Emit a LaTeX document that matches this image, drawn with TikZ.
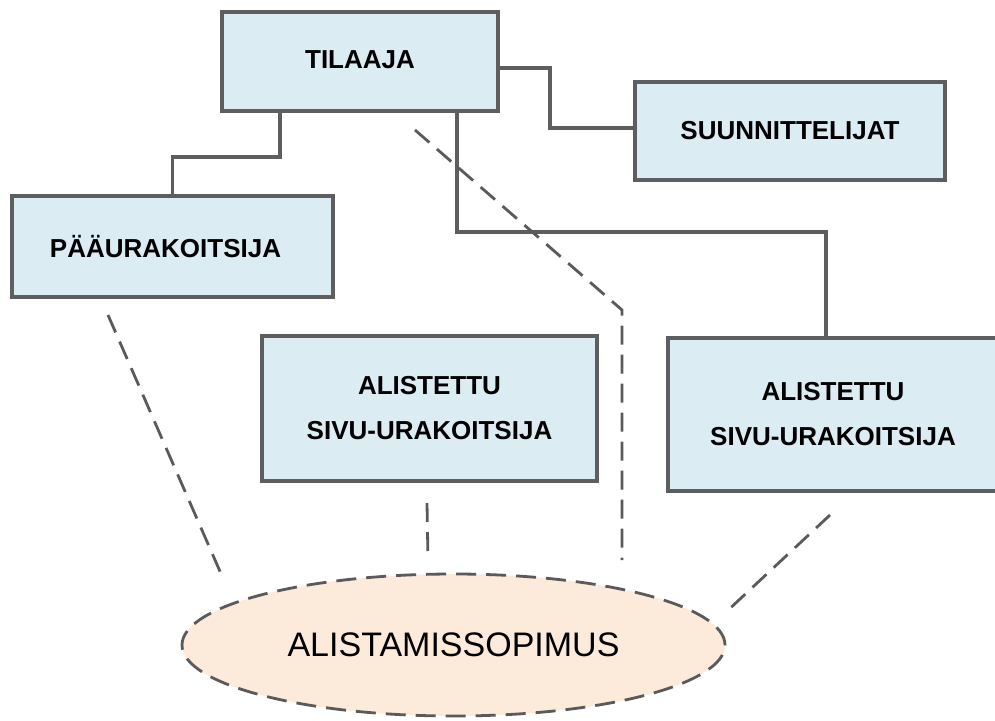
\documentclass[tikz,border=0pt]{standalone}
\usepackage{fontspec}
\setmainfont{Liberation Sans}
\usetikzlibrary{shapes.geometric}
\definecolor{boxfill}{HTML}{DBECF3}
\definecolor{boxline}{HTML}{5E5E5E}
\definecolor{ovalfill}{HTML}{FCEADB}
\definecolor{dashline}{HTML}{5A5A5A}
\begin{document}
\begin{tikzpicture}[x=1pt,y=-1pt,
  orgbox/.style={draw=boxline,line width=4.5pt,fill=boxfill,inner sep=0pt,
    align=center,font=\fontsize{26}{45}\selectfont\bfseries},
  conn/.style={draw=boxline,line width=3.6pt},
  tie/.style={draw=dashline,line width=2.8pt,dash pattern=on 19pt off 10pt},
  oval/.style={ellipse,draw=dashline,line width=2.8pt,dash pattern=on 20pt off 10pt,
    fill=ovalfill,inner sep=0pt,font=\fontsize{34}{40}\selectfont}]
\useasboundingbox (0,0) rectangle (995,720);

% organisation boxes
\node[orgbox,minimum width=276pt,minimum height=99pt] (tilaaja) at (360,61.5) {\raisebox{4pt}{TILAAJA}};
\node[orgbox,minimum width=310pt,minimum height=98pt] (suun) at (790,131) {SUUNNITTELIJAT};
\node[orgbox,minimum width=321pt,minimum height=101pt] (paa) at (172.5,246.5) {\hspace*{-14pt}PÄÄURAKOITSIJA};
\node[orgbox,minimum width=335pt,minimum height=145pt] (ali1) at (429.5,408.5) {ALISTETTU\\SIVU-URAKOITSIJA};
\node[orgbox,minimum width=330pt,minimum height=153pt] (ali2) at (833,414.5) {ALISTETTU\\SIVU-URAKOITSIJA};

% agreement
\node[oval,minimum width=543pt,minimum height=142pt] (sop) at (453.5,645) {ALISTAMISSOPIMUS};

% contract lines
\draw[conn] ([xshift=-80pt]tilaaja.south) -- ++(0,44) -| (paa.north);
\draw[conn] ([yshift=-6.5pt]tilaaja.east) -- ++(50,0) |- ([yshift=3pt]suun.west);
\draw[conn] ([xshift=97pt]tilaaja.south) -- ++(0,119) -| ([xshift=-7pt]ali2.north);

% subordination ties
\coordinate (t1a) at (108,315);
\coordinate (t1b) at (222,576);
\coordinate (t2a) at (415,130);
\coordinate (t2m) at (622,310);
\coordinate (t2b) at (622,560);
\coordinate (t3a) at (427,503);
\coordinate (t3b) at (428,560);
\coordinate (t4a) at (830,515);
\coordinate (t4b) at (725,613);
\draw[tie] (t1a) -- (t1b);
\draw[tie] (t2a) -- (t2m) -- (t2b);
\draw[tie] (t3a) -- (t3b);
\draw[tie] (t4a) -- (t4b);
\end{tikzpicture}
\end{document}
